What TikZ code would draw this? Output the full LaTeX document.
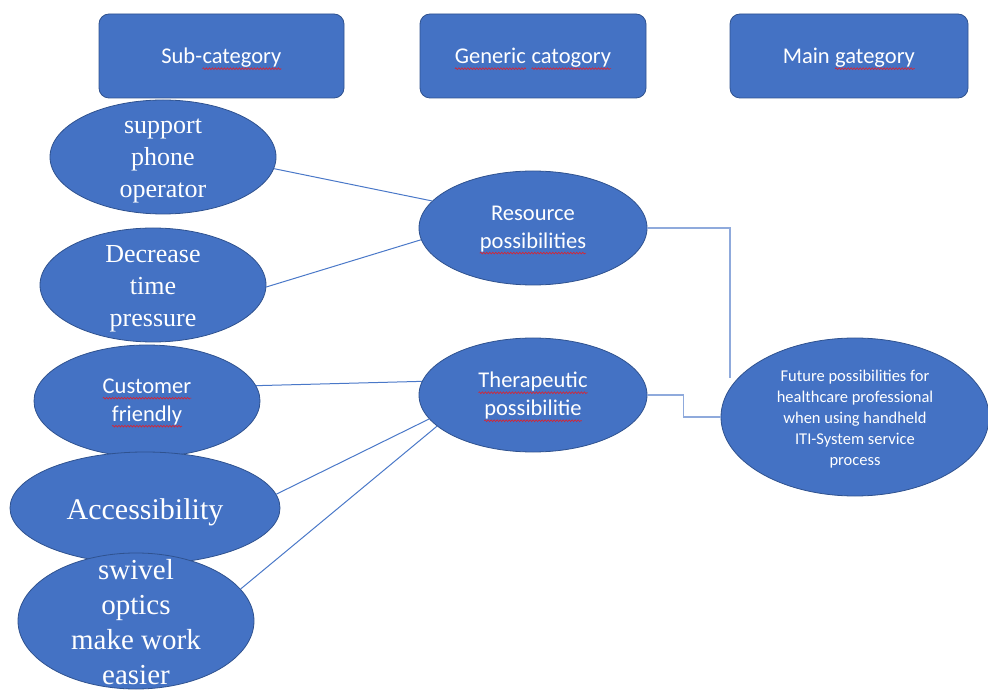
\documentclass[tikz,border=0pt]{standalone}
\usepackage{fontspec}
\setmainfont{Liberation Serif}
\newfontfamily\calibri{Carlito}
\usetikzlibrary{shapes.geometric,decorations.pathmorphing}
\definecolor{boxblue}{HTML}{4472C4}
\definecolor{edgeblue}{HTML}{2F528F}
\definecolor{linkblue}{HTML}{4A78C8}
\definecolor{paleblue}{HTML}{8FAADC}
\definecolor{spellred}{HTML}{E0202A}
% red wavy underline under flagged words
\newcommand\spellwave[1]{\tikz[baseline=(sw.base)]{\node[inner sep=0pt, outer sep=0pt, shape=rectangle,
    minimum width=0pt, minimum height=0pt, draw=none, fill=none] (sw) {#1};
  \draw[spellred, line width=0.6pt, rounded corners=0pt, decorate, decoration={snake, amplitude=0.9pt, segment length=3pt}]
    ([yshift=-5pt]sw.base west) -- ([yshift=-5pt]sw.base east);}}
\begin{document}
\begin{tikzpicture}[x=1pt,y=1pt,
  hdr/.style={draw=edgeblue, line width=0.8pt, fill=boxblue, rounded corners=10pt,
    inner sep=0, minimum height=84pt},
  bub/.style={ellipse, draw=edgeblue, line width=0.8pt, fill=boxblue, inner sep=0},
  btxt/.style={text=white, align=center, inner sep=0},
  serifA/.style={font=\fontsize{26}{32}\selectfont, yshift=-4pt},
  sansA/.style={font=\calibri\fontsize{22.5}{28}\selectfont, yshift=-2pt},
  hdrtxt/.style={btxt, font=\calibri\fontsize{22.5}{28}\selectfont, yshift=-3pt},
  leafline/.style={draw=linkblue, line width=1pt},
  trunkline/.style={draw=paleblue, line width=1.6pt}]
\useasboundingbox (0,0) rectangle (988,689);

% column headers
\node[hdr, minimum width=245pt, label={[hdrtxt]center:{Sub-\spellwave{category}}}] (hsub) at (221.5,633) {};
\node[hdr, minimum width=226pt, label={[hdrtxt]center:{\spellwave{Generic} \spellwave{catogory}}}] (hgen) at (533,633) {};
\node[hdr, minimum width=238pt, label={[hdrtxt]center:{Main \spellwave{gategory}}}] (hmain) at (849,633) {};

% sub-categories
\node[bub, minimum width=226pt, minimum height=114pt,
  label={[btxt, serifA]center:{support\\phone\\operator}}] (sup) at (163,532) {};
\node[bub, minimum width=226pt, minimum height=114pt,
  label={[btxt, serifA]center:{Decrease\\time\\pressure}}] (dec) at (153,404) {};
\node[bub, minimum width=226pt, minimum height=112pt,
  label={[btxt, sansA]center:{\spellwave{Customer}\\\spellwave{friendly}}}] (cus) at (147,288) {};
\node[bub, minimum width=270pt, minimum height=112pt,
  label={[btxt, font=\fontsize{30}{36}\selectfont, yshift=-4pt]center:{Accessibility}}] (acc) at (145,181) {};
\node[bub, minimum width=236pt, minimum height=136pt,
  label={[btxt, font=\fontsize{29}{35}\selectfont, yshift=-1pt]center:{swivel\\optics\\make work\\easier}}] (swi) at (136,68) {};

% generic categories
\node[bub, minimum width=228pt, minimum height=114pt,
  label={[btxt, sansA]center:{Resource\\\spellwave{possibilities}}}] (res) at (533,461) {};
\node[bub, minimum width=228pt, minimum height=114pt,
  label={[btxt, sansA]center:{\spellwave{Therapeutic}\\\spellwave{possibilitie}}}] (the) at (533,294) {};

% main category
\node[bub, minimum width=268pt, minimum height=158pt,
  label={[btxt, font=\calibri\fontsize{16.5}{21}\selectfont, yshift=-2pt]center:{Future possibilities for\\healthcare professional\\when using handheld\\ITI-System service\\process}}] (fut) at (855,272) {};

% links from sub-categories to generic categories
\draw[leafline] (sup.-6.6) -- (res.165.1);
\draw[leafline] (dec.-1) -- (res.186.1);
\draw[leafline] (cus.8.1) -- (the.173.1);
\draw[leafline] (acc.6.9) -- (the.193.4);
\draw[leafline] (swi.17.3) -- (the.198.3);

% links from generic categories to the main category
\coordinate (resdrop) at (730,311);
\draw[trunkline] (res.east) -| (resdrop);
\draw[trunkline] (the.east) -- ++(36,0) |- (fut.west);
\end{tikzpicture}
\end{document}
